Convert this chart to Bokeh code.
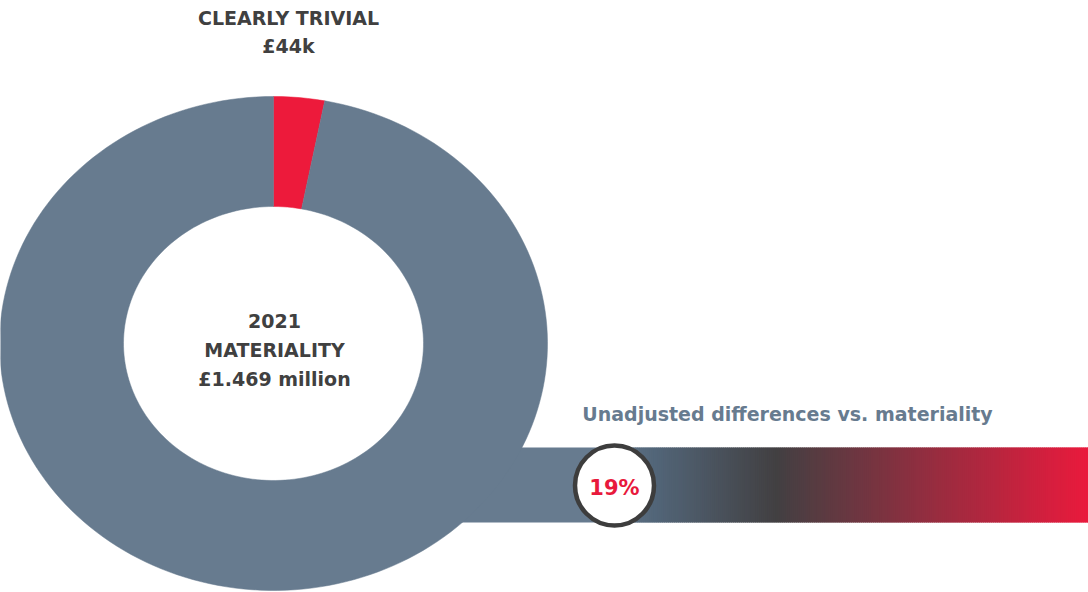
import numpy as np
from bokeh.plotting import figure
from bokeh.models import Range1d
from bokeh.core.properties import value
from bokeh.embed import file_html
from bokeh.resources import INLINE

# ---- data ----
slice_labels = ["Clearly trivial", "Rest of materiality"]
slice_values = [44, 1425]          # £k, total 1,469k
slice_colors = ["#ed1a3b", "#677b8f"]
top_label = ["CLEARLY TRIVIAL", "£44k"]
center_label = ["2021", "MATERIALITY", "£1.469 million"]
bar_title = "Unadjusted differences vs. materiality"
diff_pct = [19]

# gradient stops (position 0..1 along the gradient part, colour)
grad_pos = [0.0, 0.113, 0.36, 1.0]
grad_col = ["#677b8f", "#526578", "#424042", "#ea1a3d"]

W, H = 1088, 592
p = figure(width=W, height=H, output_backend="svg", toolbar_location=None,
           x_range=Range1d(0, W), y_range=Range1d(H, 0), min_border=0)
p.axis.visible = False
p.grid.visible = False
p.outline_line_color = None
p.background_fill_color = "white"
p.border_fill_color = "white"

# ---- gradient bar ----
bx0, bx1, by0, by1 = 400, 1088, 447, 522
gx0 = 600
p.quad(left=[bx0], right=[gx0 + 1], top=[by0], bottom=[by1],
       fill_color="#677b8f", line_color=None)
n = 240
edges = np.linspace(gx0, bx1, n + 1)
mid = (np.arange(n) + 0.5) / n
def hex2rgb(h):
    return np.array([int(h[i:i + 2], 16) for i in (1, 3, 5)], dtype=float)
rgbs = np.array([hex2rgb(c) for c in grad_col])
cols = []
for t in mid:
    r = np.interp(t, grad_pos, rgbs[:, 0])
    g = np.interp(t, grad_pos, rgbs[:, 1])
    b = np.interp(t, grad_pos, rgbs[:, 2])
    cols.append("#%02x%02x%02x" % (int(round(r)), int(round(g)), int(round(b))))
rights = np.minimum(edges[1:] + 1.5, bx1)
p.quad(left=edges[:-1], right=rights, top=by0, bottom=by1,
       fill_color=cols, line_color=None)

# ---- donut (elliptical) ----
cx, cy = 273, 343
rx_o, ry_o = 274, 247
rx_i, ry_i = 150, 137
total = sum(slice_values)
start = 0.0
xs, ys = [], []
for v in slice_values:
    end = start + v / total * 2 * np.pi
    t = np.linspace(start, end, max(4, int(200 * v / total) + 2))
    xo = cx + rx_o * np.sin(t)
    yo = cy - ry_o * np.cos(t)
    xi = cx + rx_i * np.sin(t[::-1])
    yi = cy - ry_i * np.cos(t[::-1])
    xs.append(np.concatenate([xo, xi]).tolist())
    ys.append(np.concatenate([yo, yi]).tolist())
    start = end
p.patches(xs=xs, ys=ys, fill_color=slice_colors, line_color=slice_colors,
          line_width=0.5)

font = value("DejaVu Sans")
dark = "#404040"
p.text(x=[288, 288], y=[17, 45], text=top_label, text_font=font,
       text_font_style="bold", text_font_size="19px", text_color=dark,
       text_align="center", text_baseline="middle")
p.text(x=[274] * 3, y=[320, 349, 378], text=center_label, text_font=font,
       text_font_style="bold", text_font_size="19px", text_color=dark,
       text_align="center", text_baseline="middle")
p.text(x=[787], y=[413], text=[bar_title], text_font=font,
       text_font_style="bold", text_font_size="19px", text_color="#677b8f",
       text_align="center", text_baseline="middle")

# ---- percentage badge ----
p.ellipse(x=[614], y=[485], width=[79], height=[80], fill_color="white",
          line_color="#3d3d3d", line_width=4.5)
p.text(x=[614], y=[487], text=["%d%%" % v for v in diff_pct], text_font=font,
       text_font_style="bold", text_font_size="21px", text_color="#e8193c",
       text_align="center", text_baseline="middle")

open("out.html", "w").write(file_html(p, INLINE))
